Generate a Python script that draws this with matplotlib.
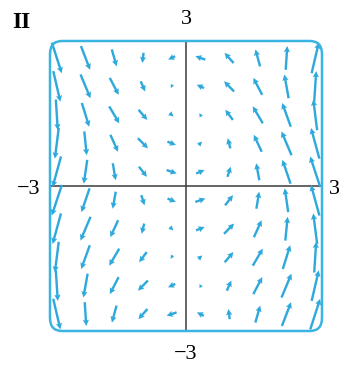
import numpy as np
import matplotlib
matplotlib.use('Agg')
import matplotlib.pyplot as plt
from matplotlib.patches import FancyBboxPatch

# grid of sample points for F(x, y) = <cos(x + y), x>
xs = np.linspace(-2.85, 2.85, 10)
ys = np.linspace(-2.65, 2.65, 10)
X, Y = np.meshgrid(xs, ys)
U = np.cos(X + Y)
V = X

panel_label = 'II'
tick_text = {'top': '3', 'bottom': '\u22123', 'left': '\u22123', 'right': '3'}

arrow_col = '#2fa9dc'
box_col = '#3ab4e2'

plt.rcParams['font.family'] = ['Liberation Serif', 'DejaVu Serif']

fig = plt.figure(figsize=(3.39, 3.70), dpi=100)
ax = fig.add_axes([50 / 339, 39 / 370, 272 / 339, 290 / 370])
ax.set_xlim(-3, 3)
ax.set_ylim(-3, 3)
ax.axis('off')

# axes through the origin
ax.axhline(0, color='#3a3a3a', lw=1.1, zorder=1)
ax.axvline(0, color='#3a3a3a', lw=1.1, zorder=1)

ax.quiver(X, Y, U, V, color=arrow_col, angles='xy', scale_units='xy',
          scale=4.5, pivot='mid', width=0.0088, headwidth=2.6,
          headlength=2.6, headaxislength=2.3, minlength=0.5, zorder=3)

# rounded frame
frame = FancyBboxPatch((0, 0), 1, 1, transform=ax.transAxes,
                       boxstyle='round,pad=0,rounding_size=0.045',
                       fill=False, ec=box_col, lw=1.8, zorder=4, clip_on=False)
ax.add_patch(frame)

fs = 16
ax.text(0.5, 1.075, tick_text['top'], transform=ax.transAxes, ha='center',
        va='center', fontsize=fs)
ax.text(0.5, -0.08, tick_text['bottom'], transform=ax.transAxes, ha='center',
        va='center', fontsize=fs)
fig.text(40 / 339, 1 - 190 / 370, tick_text['left'], ha='right', va='center',
         fontsize=fs)
fig.text(329 / 339, 1 - 190 / 370, tick_text['right'], ha='left', va='center',
         fontsize=fs)
fig.text(21 / 339, 1 - 22 / 370, panel_label, ha='center', va='center',
         fontsize=17, fontweight='bold')

fig.savefig('out.png', dpi=100)
